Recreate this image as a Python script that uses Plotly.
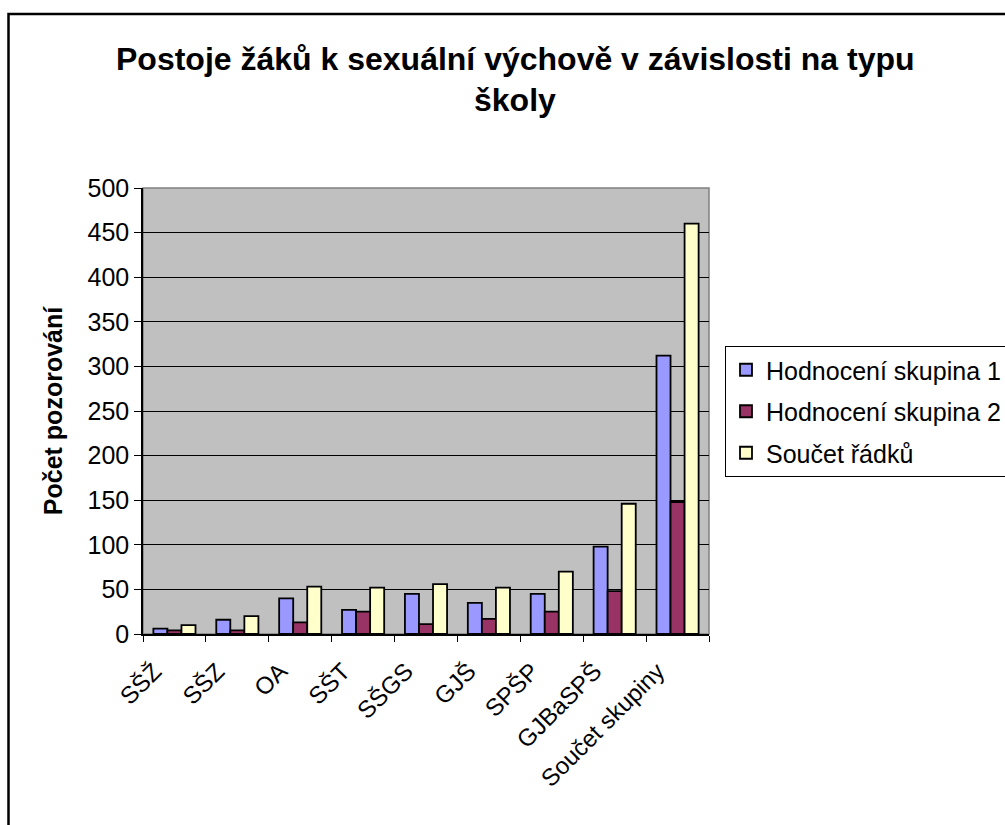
import plotly.graph_objects as go

categories = ["SŠŽ", "SŠZ", "OA", "SŠT", "SŠGS", "GJŠ", "SPŠP", "GJBaSPŠ", "Součet skupiny"]
skupina1 = [6, 16, 40, 27, 45, 35, 45, 98, 312]
skupina2 = [4, 4, 13, 25, 11, 17, 25, 48, 148]
soucet = [10, 20, 53, 52, 56, 52, 70, 146, 460]
series_names = ["Hodnocení skupina 1", "Hodnocení skupina 2", "Součet řádků"]
colors = ["#9999FF", "#993366", "#FFFFCC"]
y_ticks = [0, 50, 100, 150, 200, 250, 300, 350, 400, 450, 500]

FONT = "Liberation Sans, Arial, sans-serif"

fig = go.Figure()
for i, (name, vals, col) in enumerate(zip(series_names, [skupina1, skupina2, soucet], colors)):
    fig.add_trace(go.Bar(x=categories, y=vals, name=name, legendgroup=f"g{i}",
                         marker=dict(color=col, line=dict(color="black", width=1.8))))

L, R, T, B = 143, 296, 188, 191
W, H = 1005 - L - R, 825 - T - B

def px(x):
    return (x - L) / W

def py(y):
    return (825 - B - y) / H

fig.update_layout(
    width=1005, height=825,
    margin=dict(l=L, r=R, t=T, b=B, autoexpand=False),
    paper_bgcolor="white", plot_bgcolor="#C0C0C0",
    barmode="group", bargap=0.33, bargroupgap=0,
    font=dict(family=FONT, color="black"),
    showlegend=True,
    legend=dict(xref="container", yref="container", x=725 / 1005, y=1 - 346 / 825,
                xanchor="left", yanchor="top",
                bordercolor="black", borderwidth=1, bgcolor="white",
                font=dict(size=25, family=FONT), tracegroupgap=6,
                itemwidth=30),
    xaxis=dict(tickangle=-45, tickfont=dict(size=24), showline=True, linecolor="black",
               linewidth=1.5, ticks="outside", tickson="boundaries", ticklen=6,
               tickcolor="black", showgrid=False, automargin=False,
               ticklabelstandoff=12, ticklabelshift=-20),
    yaxis=dict(range=[0, 500], tickvals=y_ticks, tickfont=dict(size=25),
               showline=True, linecolor="black", linewidth=1.5, ticks="outside",
               ticklen=7, tickcolor="black", showgrid=True, gridcolor="black",
               gridwidth=1, zeroline=False, automargin=False,
               title=dict(text="<b>Počet pozorování</b>", font=dict(size=25), standoff=18)),
    shapes=[
        dict(type="rect", xref="paper", yref="paper", x0=0, x1=1, y0=0, y1=1,
             line=dict(color="#808080", width=1.5), layer="below"),
        dict(type="rect", xref="paper", yref="paper", x0=px(8.5), x1=px(1012),
             y0=py(830), y1=py(14), line=dict(color="black", width=2.5)),
    ],
    annotations=[
        dict(text="<b>Postoje žáků k sexuální výchově v závislosti na typu</b>",
             xref="paper", yref="paper", x=px(515), y=py(59), xanchor="center",
             yanchor="middle", showarrow=False, font=dict(size=32, family=FONT)),
        dict(text="<b>školy</b>",
             xref="paper", yref="paper", x=px(515), y=py(100), xanchor="center",
             yanchor="middle", showarrow=False, font=dict(size=32, family=FONT)),
    ],
)

fig.write_html("out.html", config={"displayModeBar": False},
               post_script="document.body.style.margin='0';")
